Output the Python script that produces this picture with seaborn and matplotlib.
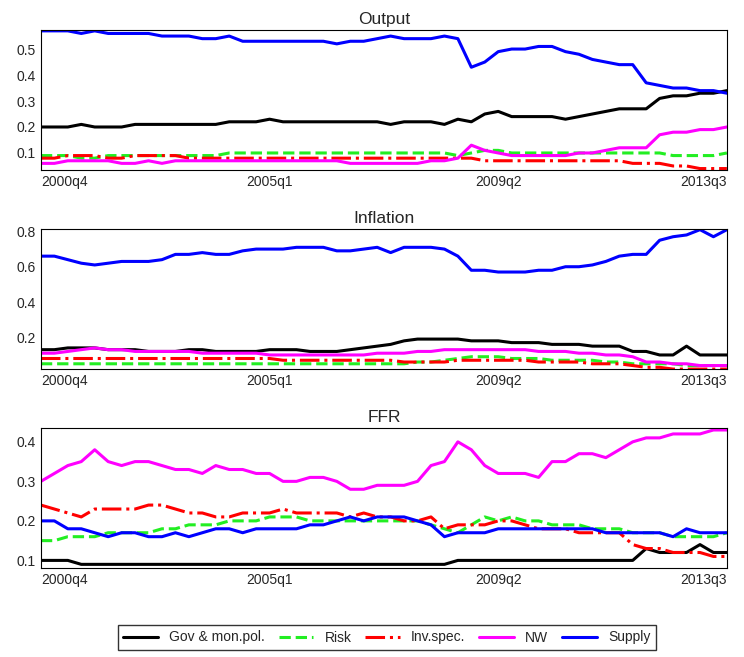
import matplotlib
matplotlib.use("Agg")
import matplotlib.pyplot as plt
import numpy as np
import pandas as pd
import seaborn as sns

sns.set_style("white")
plt.rcParams["font.family"] = ["Liberation Sans", "DejaVu Sans"]
plt.rcParams["xtick.direction"] = "in"
plt.rcParams["ytick.direction"] = "in"

quarters = np.arange(52)  # 2000q4 .. 2013q3
tick_pos = [0, 17, 34, 51]
tick_labels = ["2000q4", "2005q1", "2009q2", "2013q3"]
series_names = ["Gov & mon.pol.", "Risk", "Inv.spec.", "NW", "Supply"]
colors = ["black", "#22ee22", "red", "magenta", "blue"]
styles = ["-", "--", "-.", "-", "-"]

output_gov = [.20,.20,.20,.21,.20,.20,.20,.21,.21,.21,.21,.21,.21,.21,.22,.22,.22,.23,.22,.22,
              .22,.22,.22,.22,.22,.22,.21,.22,.22,.22,.21,.23,.22,.25,.26,.24,.24,.24,.24,.23,
              .24,.25,.26,.27,.27,.27,.31,.32,.32,.33,.33,.34]
output_risk = [.09,.09,.09,.08,.08,.09,.09,.09,.09,.09,.09,.09,.09,.09,.10,.10,.10,.10,.10,.10,
               .10,.10,.10,.10,.10,.10,.10,.10,.10,.10,.10,.09,.10,.11,.11,.10,.10,.10,.10,.10,
               .10,.10,.10,.10,.10,.10,.10,.09,.09,.09,.09,.10]
output_inv = [.08,.08,.09,.09,.09,.08,.08,.09,.09,.09,.09,.08,.08,.08,.08,.08,.08,.08,.08,.08,
              .08,.08,.08,.08,.08,.08,.08,.08,.08,.08,.08,.08,.08,.07,.07,.07,.07,.07,.07,.07,
              .07,.07,.07,.07,.06,.06,.06,.05,.05,.04,.04,.04]
output_nw = [.06,.06,.07,.07,.07,.07,.06,.06,.07,.06,.07,.07,.07,.07,.07,.07,.07,.07,.07,.07,
             .07,.07,.07,.06,.06,.06,.06,.06,.06,.07,.07,.08,.13,.11,.10,.09,.09,.09,.09,.09,
             .10,.10,.11,.12,.12,.12,.17,.18,.18,.19,.19,.20]
output_supply = [.57,.57,.57,.56,.57,.56,.56,.56,.56,.55,.55,.55,.54,.54,.55,.53,.53,.53,.53,.53,
                 .53,.53,.52,.53,.53,.54,.55,.54,.54,.54,.55,.54,.43,.45,.49,.50,.50,.51,.51,.49,
                 .48,.46,.45,.44,.44,.37,.36,.35,.35,.34,.34,.33]

infl_gov = [.13,.13,.14,.14,.14,.13,.13,.13,.12,.12,.12,.13,.13,.12,.12,.12,.12,.13,.13,.13,
            .12,.12,.12,.13,.14,.15,.16,.18,.19,.19,.19,.19,.18,.18,.18,.17,.17,.17,.16,.16,
            .16,.15,.15,.15,.12,.12,.10,.10,.15,.10,.10,.10]
infl_risk = [.05,.05,.05,.05,.05,.05,.05,.05,.05,.05,.05,.05,.05,.05,.05,.05,.05,.05,.05,.05,
             .05,.05,.05,.05,.05,.05,.05,.05,.06,.06,.07,.08,.09,.09,.09,.08,.08,.08,.07,.07,
             .07,.07,.06,.06,.05,.05,.05,.05,.04,.04,.04,.04]
infl_inv = [.08,.08,.08,.08,.08,.08,.08,.08,.08,.08,.08,.08,.08,.08,.08,.08,.08,.08,.07,.07,
            .07,.07,.07,.07,.07,.07,.07,.06,.06,.06,.06,.07,.07,.07,.07,.07,.07,.06,.06,.06,
            .06,.05,.05,.05,.04,.03,.03,.02,.02,.02,.02,.02]
infl_nw = [.11,.11,.12,.13,.14,.13,.13,.12,.12,.12,.12,.12,.11,.11,.11,.11,.11,.10,.10,.10,
           .10,.10,.10,.10,.10,.11,.11,.11,.12,.12,.13,.13,.13,.13,.13,.13,.13,.12,.12,.12,
           .11,.11,.10,.10,.09,.06,.06,.05,.05,.04,.04,.04]
infl_supply = [.66,.66,.64,.62,.61,.62,.63,.63,.63,.64,.67,.67,.68,.67,.67,.69,.70,.70,.70,.71,
               .71,.71,.69,.69,.70,.71,.68,.71,.71,.71,.70,.66,.58,.58,.57,.57,.57,.58,.58,.60,
               .60,.61,.63,.66,.67,.67,.75,.77,.78,.81,.77,.81]

ffr_gov = [.10,.10,.10,.09,.09,.09,.09,.09,.09,.09,.09,.09,.09,.09,.09,.09,.09,.09,.09,.09,
           .09,.09,.09,.09,.09,.09,.09,.09,.09,.09,.09,.10,.10,.10,.10,.10,.10,.10,.10,.10,
           .10,.10,.10,.10,.10,.13,.12,.12,.12,.14,.12,.12]
ffr_risk = [.15,.15,.16,.16,.16,.17,.17,.17,.17,.18,.18,.19,.19,.19,.20,.20,.20,.21,.21,.21,
            .20,.20,.20,.20,.20,.20,.20,.20,.20,.19,.18,.17,.19,.21,.20,.21,.20,.20,.19,.19,
            .19,.18,.18,.18,.17,.17,.17,.16,.16,.16,.16,.17]
ffr_inv = [.24,.23,.22,.21,.23,.23,.23,.23,.24,.24,.23,.22,.22,.21,.21,.22,.22,.22,.23,.22,
           .22,.22,.22,.21,.22,.21,.21,.20,.20,.21,.18,.19,.19,.19,.20,.20,.19,.18,.18,.18,
           .17,.17,.17,.17,.14,.13,.13,.12,.12,.12,.11,.11]
ffr_nw = [.30,.32,.34,.35,.38,.35,.34,.35,.35,.34,.33,.33,.32,.34,.33,.33,.32,.32,.30,.30,
          .31,.31,.30,.28,.28,.29,.29,.29,.30,.34,.35,.40,.38,.34,.32,.32,.32,.31,.35,.35,
          .37,.37,.36,.38,.40,.41,.41,.42,.42,.42,.43,.43]
ffr_supply = [.20,.20,.18,.18,.17,.16,.17,.17,.16,.16,.17,.16,.17,.18,.18,.17,.18,.18,.18,.18,
              .19,.19,.20,.21,.20,.21,.21,.21,.20,.19,.16,.17,.17,.17,.18,.18,.18,.18,.18,.18,
              .18,.18,.17,.17,.17,.17,.17,.16,.18,.17,.17,.17]

panels = [
    ("Output", [output_gov, output_risk, output_inv, output_nw, output_supply],
     (0.035, 0.575), [0.1, 0.2, 0.3, 0.4, 0.5]),
    ("Inflation", [infl_gov, infl_risk, infl_inv, infl_nw, infl_supply],
     (0.02, 0.815), [0.2, 0.4, 0.6, 0.8]),
    ("FFR", [ffr_gov, ffr_risk, ffr_inv, ffr_nw, ffr_supply],
     (0.08, 0.435), [0.1, 0.2, 0.3, 0.4]),
]

fig, axes = plt.subplots(3, 1, figsize=(7.44, 6.57), dpi=100)
fig.subplots_adjust(left=0.055, right=0.977, top=0.955, bottom=0.135, hspace=0.42)

for ax, (title, data, ylim, yticks) in zip(axes, panels):
    for name, vals, c, ls in zip(series_names, data, colors, styles):
        sns.lineplot(x=quarters, y=vals, ax=ax, color=c, linestyle=ls, linewidth=2.2, label=name)
    ax.set_xlim(0, 51)
    ax.set_ylim(*ylim)
    ax.set_yticks(yticks)
    ax.set_xticks(tick_pos)
    ax.set_xticklabels(tick_labels)
    xt = ax.get_xticklabels()
    xt[0].set_horizontalalignment("left")
    xt[-1].set_horizontalalignment("right")
    ax.set_title(title, fontsize=12.5, pad=4)
    ax.tick_params(labelsize=10, length=3)
    for s in ax.spines.values():
        s.set_color("black")
        s.set_linewidth(0.8)
    ax.get_legend().remove()

handles, labels = axes[0].get_legend_handles_labels()
fig.legend(handles, labels, loc="lower center", ncol=5, bbox_to_anchor=(0.52, 0.0),
           fontsize=10, frameon=True, fancybox=False, edgecolor="black",
           handlelength=2.5, columnspacing=1.0)

fig.savefig("out.png", dpi=100)
